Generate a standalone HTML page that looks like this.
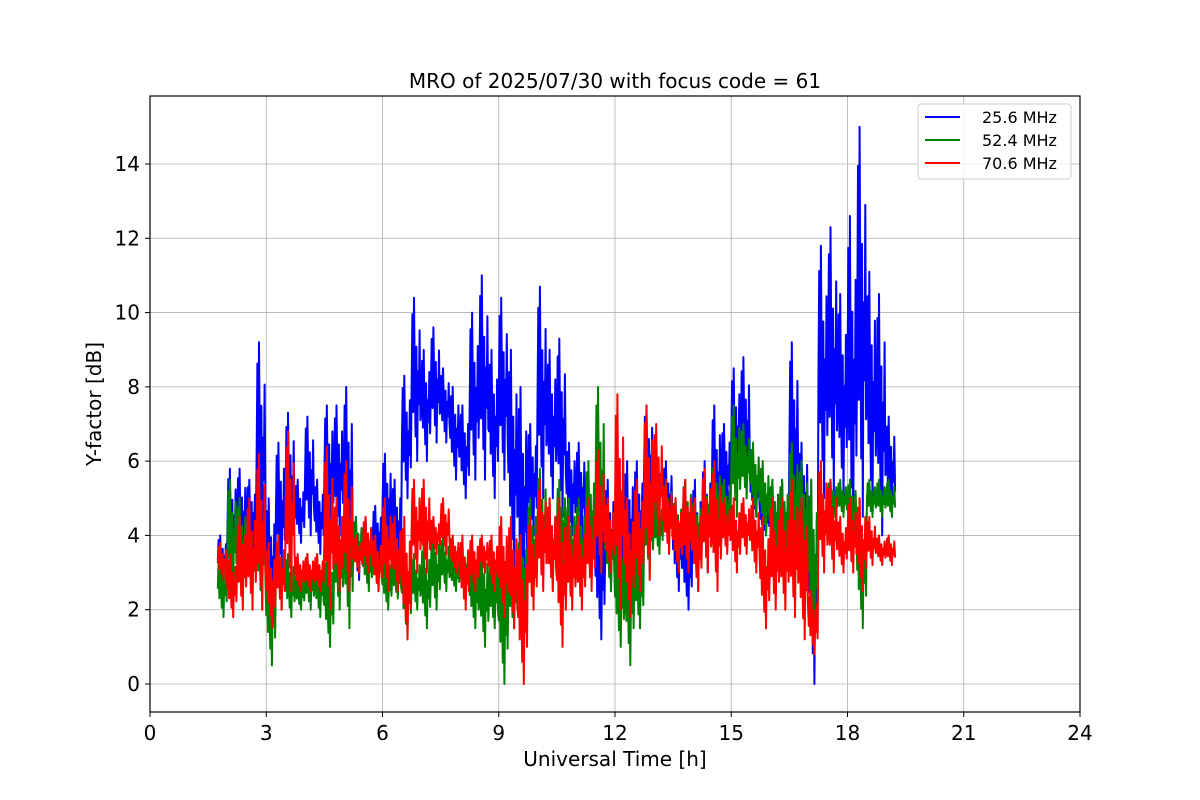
<!DOCTYPE html>
<html><head><meta charset="utf-8"><style>
html,body{margin:0;padding:0;background:#fff;}
svg{display:block;font-family:"DejaVu Sans","Liberation Sans",sans-serif;}
</style></head><body>
<svg id="chart" width="1200" height="800">
<rect width="1200" height="800" fill="#fff"/>
<g id="grid"></g>
<g id="series"></g>
<rect x="150" y="96" width="930" height="616" fill="none" stroke="#000" stroke-width="1.2"/>
<g id="ticks"></g>
<text x="615" y="88" font-size="20" text-anchor="middle">MRO of 2025/07/30 with focus code = 61</text>
<text x="615" y="766" font-size="20" text-anchor="middle">Universal Time [h]</text>
<text x="101" y="404" font-size="20" text-anchor="middle" transform="rotate(-90 101 404)">Y-factor [dB]</text>
<g>
<rect x="918" y="104" width="153" height="75" rx="3" fill="#fff" fill-opacity="0.8" stroke="#ccc"/>
<g><line x1="925" y1="117" x2="960" y2="117" stroke="#0000ff" stroke-width="2"/><text x="982" y="123" font-size="16">25.6 MHz</text></g>
<g><line x1="925" y1="140" x2="960" y2="140" stroke="#008000" stroke-width="2"/><text x="982" y="146" font-size="16">52.4 MHz</text></g>
<g><line x1="925" y1="163" x2="960" y2="163" stroke="#ff0000" stroke-width="2"/><text x="982" y="169" font-size="16">70.6 MHz</text></g>
</g>
</svg>
<script>
const binStart = 1.75, binWidth = 0.25;
const xTicks = [0,3,6,9,12,15,18,21,24];
const yTicks = [0,2,4,6,8,10,12,14];
const blueHi = [4,5.8,5.8,5.5,9.2,5,6.5,7.3,5.5,7.2,5.5,7.5,7.5,8,4.5,4.5,4.8,6.2,5.5,8.3,10.4,9,9.6,8.5,8,7.5,10,11,9,10.4,9,8,7,10.7,9,9.3,6.5,6.5,5.5,5,5.5,5,6,6,7.5,6.5,6,5,4.5,5.5,6,7.5,7,8.5,8.8,6,5,5.5,5.5,9.2,6.5,5.5,11.8,12.3,10.5,12.6,15,11.1,10.5,7.2];
const blueLo = [2.8,3,3.2,3.5,3.5,1.5,3,3.5,3.8,4,3.5,4,4,3,2.8,3,3.2,3.5,3,5,6,6,6.5,6.5,5.5,5,5.5,5.5,5,5.5,3,2,4,5,5,4.5,4,3.8,3,1.2,2.5,2,2.5,3,4.5,4.5,4,2.5,2,2.5,3,3.5,4.5,5,5,4.5,4,3.5,3.5,4,3.5,0,5,5,5,4,4.5,4.5,4,4.5];
const greenHi = [3.5,5.5,5,4.5,5.5,3.5,4,3.5,3,3.5,3.5,3.5,4.5,5.5,4.5,4,4,3.5,3.5,4,3.5,3.8,4.2,4,3.5,3.8,3.5,3.8,3.5,3.8,3.5,4,5,5.8,5,5.5,5,5,6,8,5,4,4.5,4,5.5,5,5.5,5,5.5,5,5.5,6,5.5,7.5,7,6.5,6,5.5,5.5,6.5,6,5.5,5,5.5,5.5,5.5,5,5.5,5.5,5.5];
const greenLo = [1.8,2.5,2.5,2.5,2,0.5,2,1.8,2,2,1.8,1,2,1.5,3,2.5,2.5,2,2.3,1.2,2,1.5,2,2.5,2.5,2.5,1.5,1,1.5,0,1.5,2,2.5,3,2.5,3,2.5,2.5,3,3,2.5,1,0.5,1.5,3,3.5,3.8,3.5,3.5,3.5,4,4,4,4.5,5,4.5,4,3.5,3.5,3.5,3,1,4,4.5,4.5,4,1.5,4.5,4.5,4.5];
const redHi = [3.8,3.5,4.5,5,6.2,3.8,4,6.8,3.5,3.5,3.5,6.4,5,6,4,4.5,4,5,4.5,4.5,5.5,5.5,4.5,5,4,4,4,4,4,4.5,4.5,4,4.5,5.5,5,5,4.5,4.5,5,6.3,5,7.8,5,5.5,7.5,7,5.5,5,5.5,5,5.8,6,5,5,5,5,4.5,5,5,5.5,5,2.5,6,5.5,4.5,5,5,4.5,4,4];
const redLo = [2.8,1.8,2,2,2,1.5,2,2.5,2.5,2.5,2.5,2,2.5,2.5,3,3,2.5,2.5,2.5,1.2,3,3,3.5,3.5,3,2,2.5,3,2.5,1.8,1.5,0,2,2.5,2.5,1,2,2,2.5,3,3,2,1.8,2.5,2.8,4,3.5,3,3,2.5,3,2.5,3.5,3,3.5,3,1.5,2,2,1.8,1.2,0.8,3,3,3,3,2.5,3.2,3.2,3.2];

const X0=150,X1=1080,Y0=684,PXU=(684-164)/14;
const xs = h => X0 + (h/24)*(X1-X0);
const ys = v => Y0 - v*PXU;
const NS = "http://www.w3.org/2000/svg";
function mk(tag, attrs, parent){const e=document.createElementNS(NS,tag);for(const k in attrs)e.setAttribute(k,attrs[k]);parent.appendChild(e);return e;}
const grid=document.getElementById('grid'), ticks=document.getElementById('ticks'), series=document.getElementById('series');
xTicks.forEach(t=>{
  const g=mk('line',{x1:xs(t),x2:xs(t),y1:96,y2:712,stroke:'#b0b0b0','stroke-width':0.8},grid);
  
  
  mk('line',{x1:xs(t),x2:xs(t),y1:712,y2:717,stroke:'#000'},ticks);
  const l=mk('text',{x:xs(t),y:740,'font-size':20,'text-anchor':'middle'},ticks);
  l.textContent=t;
  
  
});
yTicks.forEach(t=>{
  const g=mk('line',{x1:150,x2:1080,y1:ys(t),y2:ys(t),stroke:'#b0b0b0','stroke-width':0.8},grid);
  
  
  mk('line',{x1:145,x2:150,y1:ys(t),y2:ys(t),stroke:'#000'},ticks);
  const l=mk('text',{x:140,y:ys(t)+7,'font-size':20,'text-anchor':'end'},ticks);
  l.textContent=t;
  
  
});
const zig=[0.45,0.9,0.3,1,0.5,0.15,0.7,0,0.55,0.35,0.8,0.25];
function draw(hi,lo,color,name){
  let pts=[];
  hi.forEach((h,i)=>{
    const n=zig.length;
    for(let k=0;k<n;k++){
      const t=binStart+i*binWidth+binWidth*k/n;
      pts.push(xs(t).toFixed(1)+','+ys(lo[i]+zig[k]*(h-lo[i])).toFixed(1));
    }
  });
  const p=mk('polyline',{points:pts.join(' '),fill:'none',stroke:color,'stroke-width':2,'stroke-linejoin':'round'},series);
  
  
}
draw(blueHi,blueLo,'#0000ff','series-25-6-mhz');
draw(greenHi,greenLo,'#008000','series-52-4-mhz');
draw(redHi,redLo,'#ff0000','series-70-6-mhz');
</script>
</body></html>
